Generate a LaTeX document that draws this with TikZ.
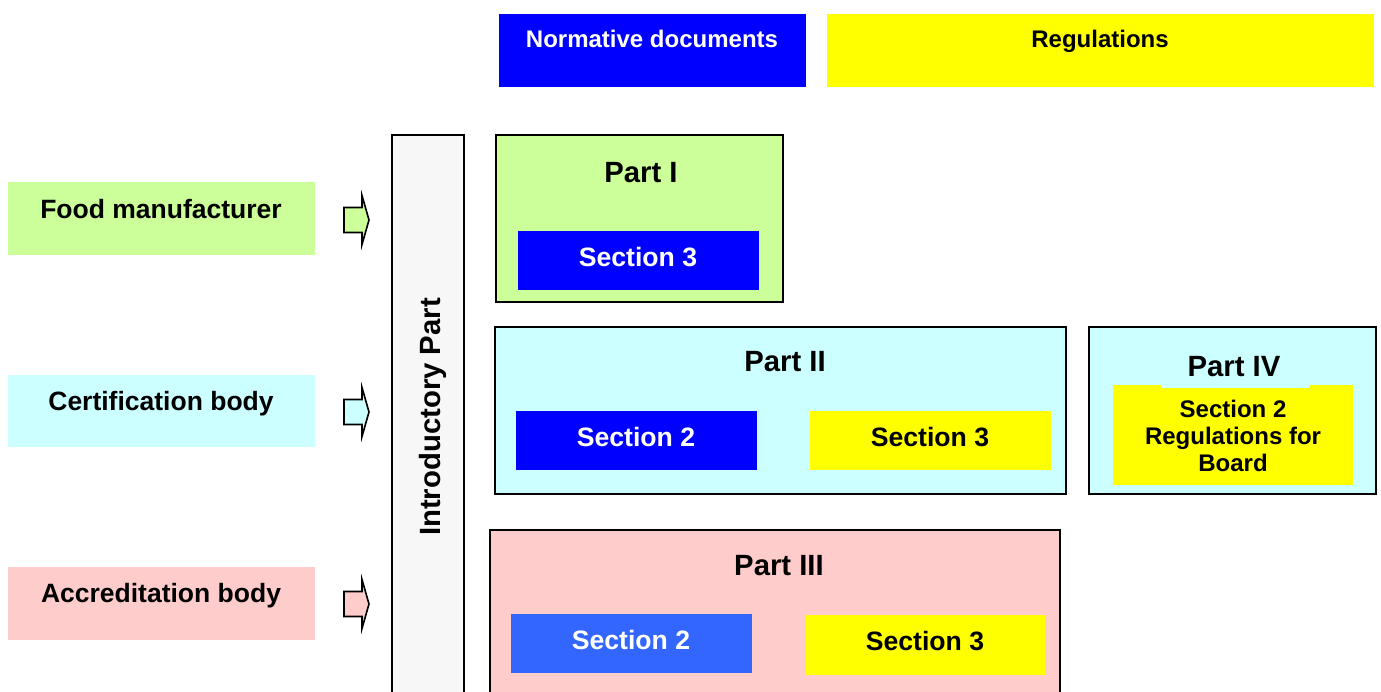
\documentclass[tikz,border=0pt]{standalone}
\usepackage{fontspec}
\setmainfont{Liberation Sans}
\definecolor{cgreen}{HTML}{CCFF99}
\definecolor{ccyan}{HTML}{CCFFFF}
\definecolor{cpink}{HTML}{FFCCCC}
\definecolor{cblue}{HTML}{0000FF}
\definecolor{cblue2}{HTML}{3366FF}
\definecolor{cyel}{HTML}{FFFF00}
\definecolor{cgray}{HTML}{F7F7F7}
\begin{document}
\begin{tikzpicture}[x=1pt,y=-1pt,
  partbox/.style={fill=#1,draw=black,line width=1.8pt},
  txt/.style={inner sep=0pt,text height=17.2pt,text depth=0pt,font=\bfseries\fontsize{24}{27}\selectfont},
  ltxt/.style={inner sep=0pt,text height=19pt,text depth=0pt,font=\bfseries\fontsize{26.5}{30}\selectfont},
  ptxt/.style={inner sep=0pt,text height=21pt,text depth=0pt,font=\bfseries\fontsize{29.3}{33}\selectfont},
  stxt/.style={inner sep=0pt,text height=19.1pt,text depth=0pt,font=\bfseries\fontsize{26.6}{30}\selectfont},
  blockarrow/.style={fill=#1,draw=black,line width=1.6pt,line join=miter}]
\useasboundingbox (0,0) rectangle (1381,691);
% top legend
\fill[cblue] (499,14) rectangle (806,87);
\node[txt,text=white] (ndt) at (652,39) {Normative documents};
\fill[cyel] (827,14) rectangle (1374,87);
\node[txt] (regt) at (1100,39) {Regulations};
% left boxes
\fill[cgreen] (8,182) rectangle (315,255);
\node[ltxt] (fm) at (161,209) {Food manufacturer};
\fill[ccyan] (8,375) rectangle (315,447);
\node[ltxt] (cb) at (161,401) {Certification body};
\fill[cpink] (8,567) rectangle (315,640);
\node[ltxt] (ab) at (161,593) {Accreditation body};
% block arrows
\foreach \yc/\col in {220/cgreen,412/ccyan,604/cpink}{
  \filldraw[blockarrow=\col] (344,\yc-12.5) -- (362,\yc-12.5) -- (362,\yc-24.5) -- (369,\yc) -- (362,\yc+24.5) -- (362,\yc+12.5) -- (344,\yc+12.5) -- cycle;
}
% introductory part
\filldraw[partbox=cgray] (392,135) rectangle (464,700);
\node[ptxt,rotate=90] (intro) at (430,417) {Introductory Part};
% Part I
\filldraw[partbox=cgreen] (496,135) rectangle (783,302);
\node[ptxt] (p1) at (641,172) {Part I};
\fill[cblue] (518,231) rectangle (759,290);
\node[stxt,text=white] (p1s3) at (638,257) {Section 3};
% Part II
\filldraw[partbox=ccyan] (495,327) rectangle (1066,494);
\node[ptxt] (p2) at (785,361) {Part II};
\fill[cblue] (516,411) rectangle (757,470);
\node[stxt,text=white] (p2s2) at (636,437) {Section 2};
\fill[cyel] (810,411) rectangle (1051,470);
\node[stxt] (p2s3) at (930,437) {Section 3};
% Part IV
\filldraw[partbox=ccyan] (1089,327) rectangle (1376,494);
\node[ptxt] (p4) at (1234,366) {Part IV};
\fill[cyel] (1113,388) rectangle (1353,485);
\fill[cyel] (1113,385) rectangle (1161,388);
\fill[cyel] (1309,385) rectangle (1353,388);
\node[inner sep=0pt,align=center,font=\bfseries\fontsize{24}{27}\selectfont] (p4s2) at (1233,436) {Section 2\\Regulations for\\Board};
% Part III
\filldraw[partbox=cpink] (490,530) rectangle (1060,700);
\node[ptxt] (p3) at (779,565) {Part III};
\fill[cblue2] (511,614) rectangle (752,673);
\node[stxt,text=white] (p3s2) at (631,640) {Section 2};
\fill[cyel] (806,615) rectangle (1045,675);
\node[stxt] (p3s3) at (925,641) {Section 3};
\end{tikzpicture}
\end{document}
